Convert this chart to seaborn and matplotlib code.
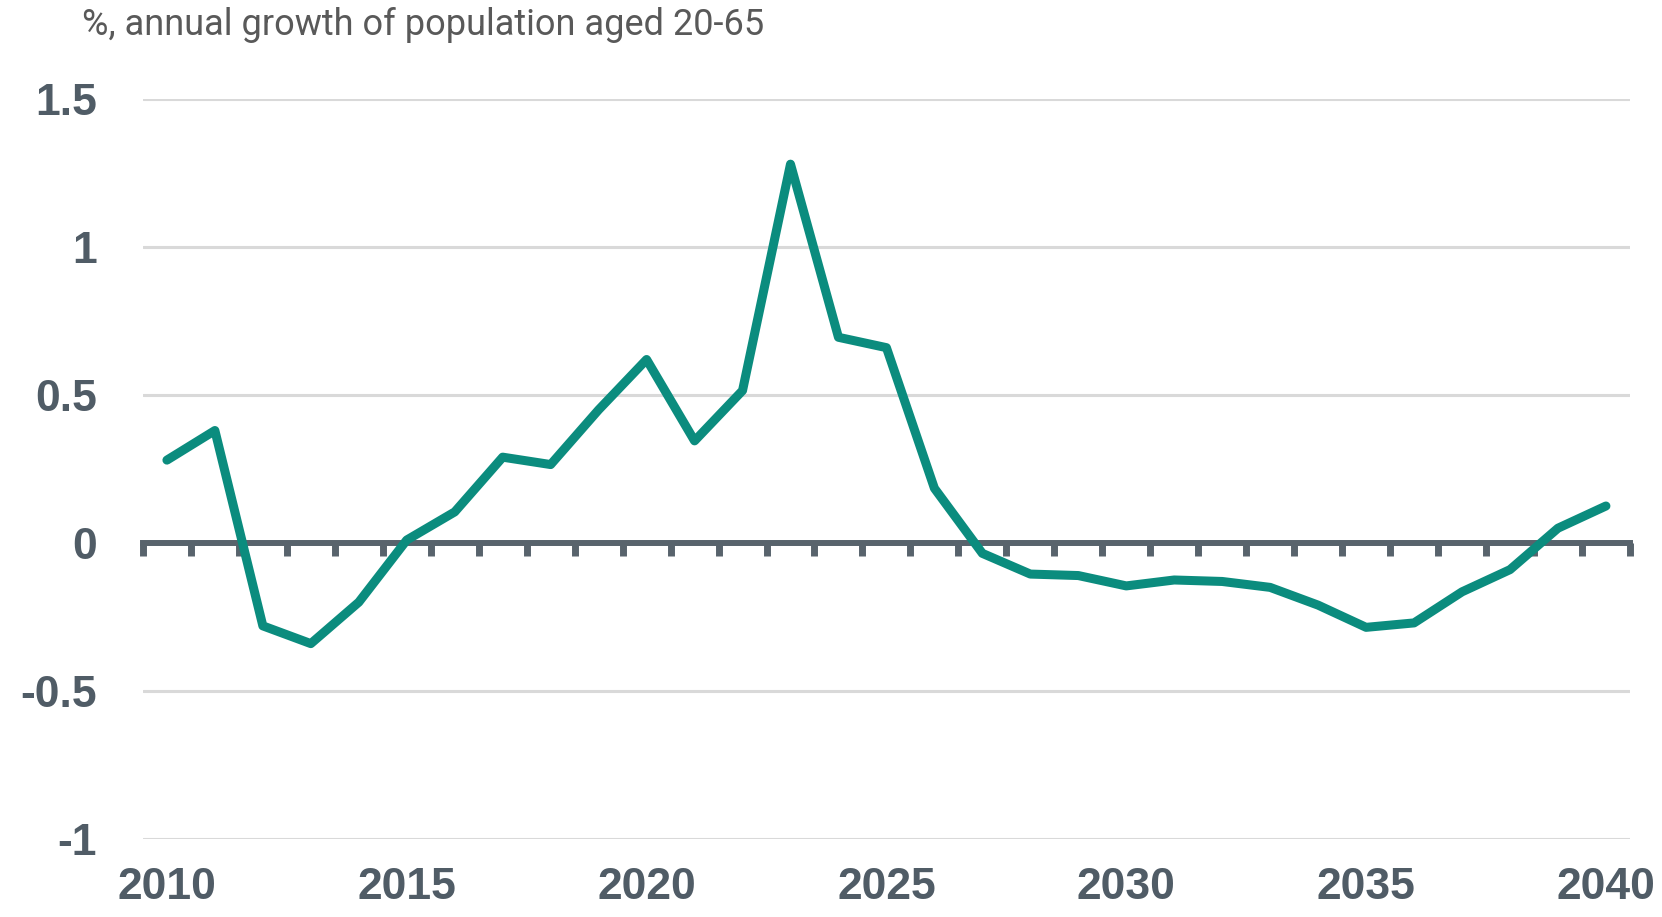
import numpy as np
import pandas as pd
import matplotlib
matplotlib.use("Agg")
import matplotlib.pyplot as plt
import seaborn as sns

years = list(range(2010, 2041))
growth = [0.28, 0.38, -0.28, -0.34, -0.20, 0.01, 0.105, 0.29, 0.265, 0.45,
          0.62, 0.345, 0.515, 1.28, 0.695, 0.66, 0.185, -0.035, -0.105, -0.11,
          -0.145, -0.125, -0.13, -0.15, -0.21, -0.285, -0.27, -0.165, -0.09, 0.05,
          0.125]
y_ticks = [-1, -0.5, 0, 0.5, 1, 1.5]
y_labels = ["-1", "-0.5", "0", "0.5", "1", "1.5"]
x_ticks = [2010, 2015, 2020, 2025, 2030, 2035, 2040]

df = pd.DataFrame({"year": years, "growth": growth})

sns.set_style("white")
plt.rcParams["font.family"] = ["Liberation Sans", "DejaVu Sans"]

text_col = "#505c66"
fig = plt.figure(figsize=(16.62, 9.17), dpi=100)
ax = fig.add_axes([0.0860, 0.0851, 0.8947, 0.8069])

sns.lineplot(data=df, x="year", y="growth", ax=ax, color="#0b8c7e",
             linewidth=6.5, solid_capstyle="round", zorder=5)

ax.set_xlim(2009.5, 2040.5)
ax.set_ylim(-1, 1.5)
ax.set_yticks(y_ticks)
ax.set_yticklabels(y_labels)
ax.set_xticks(x_ticks)
ax.set_xticklabels([str(x) for x in x_ticks])
ax.set_xlabel("")
ax.set_ylabel("")

# light horizontal gridlines
ax.grid(axis="y", color="#d9d9d9", linewidth=2.2, zorder=0)
ax.grid(axis="x", visible=False)
for s in ax.spines.values():
    s.set_visible(False)

ax.tick_params(axis="both", length=0, labelsize=32, labelcolor=text_col)
ax.tick_params(axis="y", pad=33)
ax.tick_params(axis="x", pad=20)
for lab in ax.get_xticklabels() + ax.get_yticklabels():
    lab.set_fontweight("bold")

# zero line with category boundary ticks
zero_frac = (0 - (-1)) / (1.5 - (-1))
sec = ax.secondary_xaxis(zero_frac)
sec.spines["bottom"].set_color("#58636c")
sec.spines["bottom"].set_linewidth(4.3)
sec.set_xticks([y + 0.5 for y in [2009] + years])
sec.tick_params(axis="x", direction="out", length=9.5, width=5,
                color="#58636c", labelbottom=False)
sec.set_zorder(3)

fig.text(82 / 1662, 1 - 25 / 917, "%, annual growth of population aged 20-65",
         fontsize=26, color="#595959", ha="left", va="center",
         family=["Roboto", "DejaVu Sans"])

fig.savefig("out.png", dpi=100, facecolor="white")
